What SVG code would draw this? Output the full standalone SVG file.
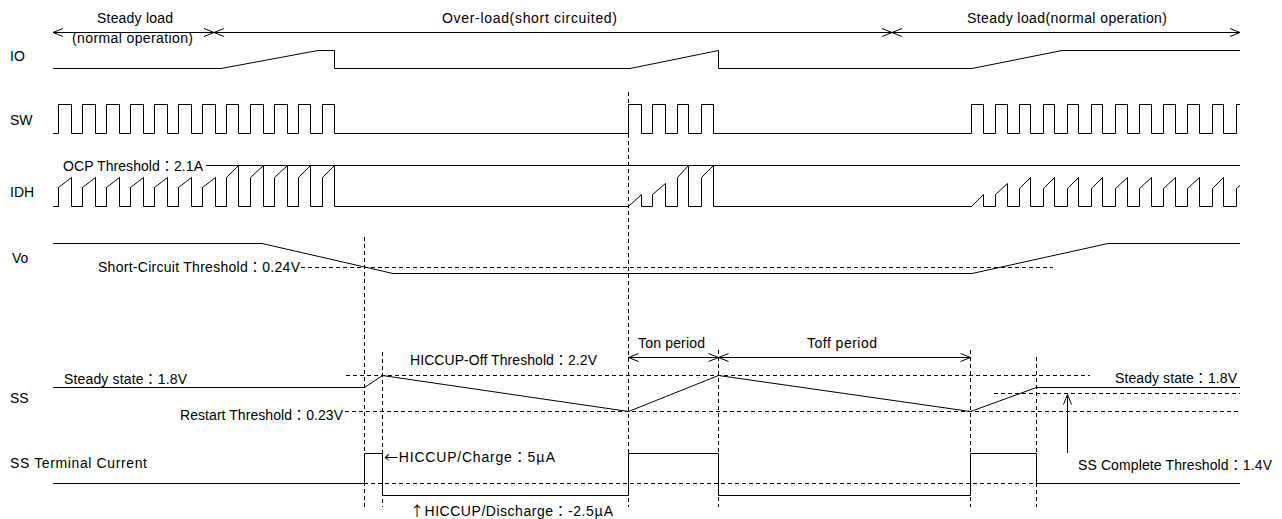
<svg xmlns="http://www.w3.org/2000/svg" width="1282" height="519" viewBox="0 0 1282 519">
<style>
  text { font-family: "Liberation Sans", "Noto Sans CJK JP", sans-serif; font-size: 14px; fill: #000; }
  .cjk { font-family: "Noto Sans CJK JP", sans-serif; }
  .w { fill: none; stroke: #000; stroke-width: 1; }
  .d { fill: none; stroke: #000; stroke-width: 1; stroke-dasharray: 4 3; }
  .a { fill: none; stroke: #000; stroke-width: 1; marker-start: url(#ah); marker-end: url(#ah); }
</style>
<defs>
  <marker id="ah" viewBox="-11 -5 12 10" refX="0" refY="0" markerWidth="12" markerHeight="10" markerUnits="userSpaceOnUse" orient="auto-start-reverse" overflow="visible">
    <path d="M-10,-4 L0,0 L-10,4" fill="none" stroke="#000" stroke-width="1"/>
  </marker>
  <marker id="up" viewBox="-11 -5 12 10" refX="0" refY="0" markerWidth="12" markerHeight="10" markerUnits="userSpaceOnUse" orient="auto" overflow="visible">
    <path d="M-10,-4 L0,0 L-10,4" fill="none" stroke="#000" stroke-width="1"/>
  </marker>
</defs>
<rect x="0" y="0" width="1282" height="519" fill="#fff"/>

<g id="phases">
  <path class="a" d="M53,32.5 H214"/>
  <path class="a" d="M214,32.5 H892"/>
  <path class="a" d="M892,32.5 H1240"/>
  <text x="97" y="23" textLength="76">Steady load</text>
  <text x="72" y="43" textLength="121">(normal operation)</text>
  <text x="442" y="23" textLength="175">Over-load(short circuited)</text>
  <text x="967" y="23" textLength="200">Steady load(normal operation)</text>
</g>

<g id="io">
  <text x="10" y="61">IO</text>
  <path class="w" d="M53,68.5 H221 L318,50.5 H334.5 V68.5 H630 L718.5,50.5 V68.5 H972 L1062,50.5 H1240"/>
</g>

<g id="sw">
  <text x="10" y="125">SW</text>
  <path class="w" d="M53,133.5 H58.5 V104.5 H71.5 V133.5 H82.5 V104.5 H95.5 V133.5 H106.5 V104.5 H119.5 V133.5 H130.5 V104.5 H143.5 V133.5 H154.5 V104.5 H167.5 V133.5 H178.5 V104.5 H191.5 V133.5 H202.5 V104.5 H215.5 V133.5 H226.5 V104.5 H238.5 V133.5 H250.5 V104.5 H263.5 V133.5 H274.5 V104.5 H287.5 V133.5 H298.5 V104.5 H310.5 V133.5 H322.5 V104.5 H334.5 V133.5 H628.5 V104.5 H641.5 V133.5 H652.5 V104.5 H665.5 V133.5 H677.5 V104.5 H688.5 V133.5 H701.5 V104.5 H713.5 V133.5 H971.5 V104.5 H983.5 V133.5 H995.5 V104.5 H1007.5 V133.5 H1019.5 V104.5 H1030.5 V133.5 H1043.5 V104.5 H1054.5 V133.5 H1067.5 V104.5 H1078.5 V133.5 H1091.5 V104.5 H1102.5 V133.5 H1115.5 V104.5 H1127.5 V133.5 H1139.5 V104.5 H1151.5 V133.5 H1163.5 V104.5 H1175.5 V133.5 H1187.5 V104.5 H1199.5 V133.5 H1212.5 V104.5 H1223.5 V133.5 H1236.5 V104.5 H1240"/>
</g>

<g id="idh">
  <text x="63" y="171" textLength="140">OCP Threshold：2.1A</text>
  <path class="w" d="M206,165.5 H1240"/>
  <text x="10" y="197">IDH</text>
  <path class="w" d="M53,206.5 H58.5 V187.5 L71.5,177.5 V206.5 H82.5 V187.5 L95.5,177.5 V206.5 H106.5 V187.5 L119.5,177.5 V206.5 H130.5 V187.5 L143.5,177.5 V206.5 H154.5 V187.5 L167.5,177.5 V206.5 H178.5 V187.5 L191.5,177.5 V206.5 H202.5 V187.5 L215.5,177.5 V206.5 H226.5 V177.5 L238.5,165.5 V206.5 H250.5 V177.5 L263.5,165.5 V206.5 H274.5 V177.5 L287.5,165.5 V206.5 H298.5 V177.5 L310.5,165.5 V206.5 H322.5 V177.5 L334.5,165.5 V206.5 H628.5 L641.5,194.5 V206.5 H652.5 V194.5 L665.5,183.5 V206.5 H677.5 V177.5 L688.5,165.5 V206.5 H701.5 V177.5 L713.5,165.5 V206.5 H971.5 L983.5,194.5 V206.5 H995.5 V194.5 L1007.5,183.5 V206.5 H1019.5 V188.5 L1030.5,177.5 V206.5 H1043.5 V188.5 L1054.5,177.5 V206.5 H1067.5 V188.5 L1078.5,177.5 V206.5 H1091.5 V188.5 L1102.5,177.5 V206.5 H1115.5 V188.5 L1127.5,177.5 V206.5 H1139.5 V188.5 L1151.5,177.5 V206.5 H1163.5 V188.5 L1175.5,177.5 V206.5 H1187.5 V188.5 L1199.5,177.5 V206.5 H1212.5 V188.5 L1223.5,177.5 V206.5 H1236.5 V188.5 L1240,185.5"/>
</g>

<g id="vo">
  <text x="12" y="263">Vo</text>
  <path class="w" d="M53,243.5 H262 L393,273.5 H972 L1108,243.5 H1240"/>
  <text x="98" y="272" textLength="202">Short-Circuit Threshold：0.24V</text>
  <path class="d" d="M301,267.5 H1053"/>
</g>

<g id="markers">
  <path class="d" d="M364.5,237 V507"/>
  <path class="d" d="M382.5,352 V507"/>
  <path class="d" d="M628.5,92 V507"/>
  <path class="d" d="M718.5,350 V507"/>
  <path class="d" d="M970.5,350 V507"/>
  <path class="d" d="M1036.5,357 V507"/>
  <path class="a" d="M628.5,357.5 H718.5"/>
  <path class="a" d="M718.5,357.5 H970.5"/>
  <text x="638" y="348" textLength="67">Ton period</text>
  <text x="807" y="348" textLength="70">Toff period</text>
</g>

<g id="ss">
  <text x="10" y="403">SS</text>
  <path class="d" d="M346,375.5 H1090"/>
  <path class="d" d="M345,411.5 H1240"/>
  <path class="d" d="M994,393.5 H1240"/>
  <path class="w" d="M53,387.5 H364.5 L382.5,375.5 L628.5,411.5 L718.5,375.5 L970.5,411.5 L1036.5,387.5 H1240"/>
  <text x="64" y="384" textLength="123">Steady state：1.8V</text>
  <text x="180" y="420" textLength="163">Restart Threshold：0.23V</text>
  <text x="410" y="365" textLength="187">HICCUP-Off Threshold：2.2V</text>
  <text x="1115" y="383" textLength="122">Steady state：1.8V</text>
  <path class="w" d="M1067.5,453 V394.5" marker-end="url(#up)"/>
  <text x="1078" y="470" textLength="194">SS Complete Threshold：1.4V</text>
</g>

<g id="ss-current">
  <text x="10" y="468" textLength="137">SS Terminal Current</text>
  <path class="d" d="M364,483.5 H1240"/>
  <path class="w" d="M53,483.5 H364.5 V453.5 H382.5 V495.5 H628.5 V453.5 H718.5 V495.5 H970.5 V453.5 H1036.5 V483.5 H1240"/>
  <text x="384" y="462" textLength="171"><tspan class="cjk">←</tspan>HICCUP/Charge：5<tspan class="cjk">μ</tspan>A</text>
  <text x="410" y="516" textLength="203"><tspan class="cjk">↑</tspan>HICCUP/Discharge：-2.5<tspan class="cjk">μ</tspan>A</text>
</g>
</svg>
